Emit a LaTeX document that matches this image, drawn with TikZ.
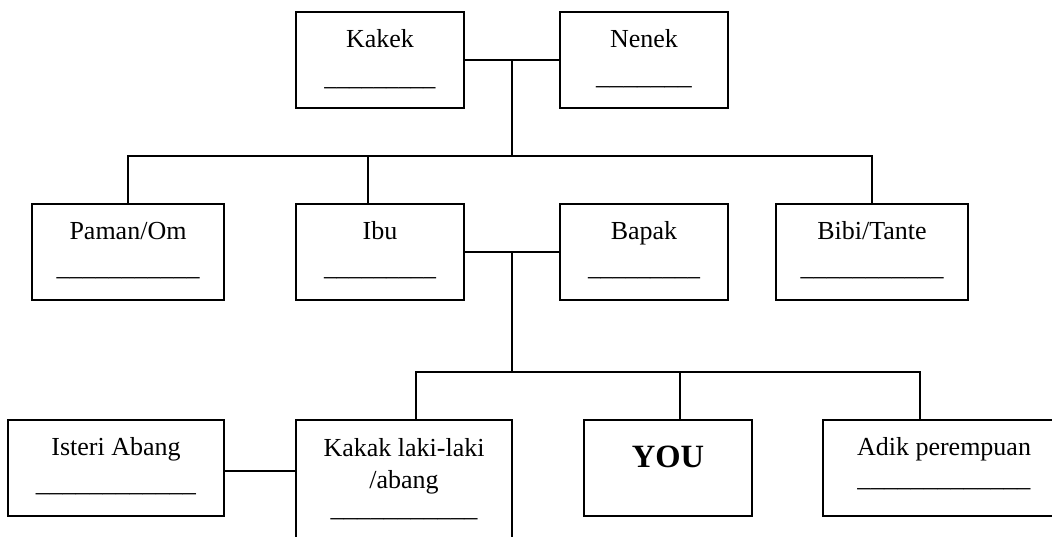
\documentclass[tikz,border=0pt]{standalone}
\usepackage{fontspec}
\setmainfont{Liberation Serif}
\usetikzlibrary{calc}
\tikzset{
  fambox/.style={draw, line width=2pt, rectangle, inner sep=0pt, outer sep=0pt},
  lbl/.style={anchor=base, inner sep=0pt, font=\fontsize{26}{30}\selectfont},
  youlbl/.style={anchor=base, inner sep=0pt, font=\fontsize{32.5}{36}\selectfont\bfseries},
  conn/.style={line width=2pt},
}
\begin{document}
\begin{tikzpicture}[x=1pt,y=-1pt]
\useasboundingbox (0,0) rectangle (1052,536);
\clip (0,0) rectangle (1052,536);
% boxes
\node[fambox, minimum width=168pt, minimum height=96pt] (kakek) at (380,60) {};
\node[fambox, minimum width=168pt, minimum height=96pt] (nenek) at (644,60) {};
\node[fambox, minimum width=192pt, minimum height=96pt] (paman) at (128,252) {};
\node[fambox, minimum width=168pt, minimum height=96pt] (ibu) at (380,252) {};
\node[fambox, minimum width=168pt, minimum height=96pt] (bapak) at (644,252) {};
\node[fambox, minimum width=192pt, minimum height=96pt] (bibi) at (872,252) {};
\node[fambox, minimum width=216pt, minimum height=96pt] (isteri) at (116,468) {};
\node[fambox, minimum width=216pt, minimum height=140pt] (kakak) at (404,490) {};
\node[fambox, minimum width=168pt, minimum height=96pt] (you) at (668,468) {};
\node[fambox, minimum width=242pt, minimum height=96pt] (adik) at (944,468) {};
% texts
\node[lbl] (tkakek) at (380,47.5) {Kakek};
\node[lbl] (ukakek) at (380,85) {\scalebox{0.95}[1]{\_\_\_\_\_\_\_\_\_}};
\node[lbl] (tnenek) at (644,47.5) {Nenek};
\node[lbl] (unenek) at (644,84) {\scalebox{1.05}[1]{\_\_\_\_\_\_\_}};
\node[lbl] (tpaman) at (128,239) {Paman/Om};
\node[lbl] (upaman) at (128,275) {\_\_\_\_\_\_\_\_\_\_\_};
\node[lbl] (tibu) at (380,239) {Ibu};
\node[lbl] (uibu) at (380,275) {\scalebox{0.957}[1]{\_\_\_\_\_\_\_\_\_}};
\node[lbl] (tbapak) at (644,239) {Bapak};
\node[lbl] (ubapak) at (644,275) {\scalebox{0.957}[1]{\_\_\_\_\_\_\_\_\_}};
\node[lbl] (tbibi) at (872,239) {Bibi/Tante};
\node[lbl] (ubibi) at (872,275) {\_\_\_\_\_\_\_\_\_\_\_};
\node[lbl] (tisteri) at (116,455) {Isteri Abang};
\node[lbl] (uisteri) at (116,491) {\scalebox{1.026}[1]{\_\_\_\_\_\_\_\_\_\_\_\_}};
\node[lbl] (tkakak) at (404,456) {Kakak laki-laki};
\node[lbl] (tkakak2) at (404,488) {/abang};
\node[lbl] (ukakak) at (404,516) {\scalebox{1.028}[1]{\_\_\_\_\_\_\_\_\_\_\_}};
\node[youlbl] (tyou) at (668,467) {YOU};
\node[lbl] (tadik) at (944,455) {Adik perempuan};
\node[lbl] (uadik) at (944,486) {\scalebox{1.024}[1]{\_\_\_\_\_\_\_\_\_\_\_\_\_}};
% connectors
\coordinate (busA) at (0,156);
\coordinate (busB) at (0,372);
\draw[conn] (kakek.east) -- (nenek.west);
\coordinate (gp) at ($(kakek.east)!0.5!(nenek.west)$);
\draw[conn] (gp) -- (gp |- busA);
\draw[conn] (paman.north) -- (paman.north |- busA) -- (bibi.north |- busA) -- (bibi.north);
\draw[conn] ([xshift=-12pt]ibu.north) -- ([xshift=-12pt]ibu.north |- busA);
\draw[conn] (ibu.east) -- (bapak.west);
\coordinate (pp) at ($(ibu.east)!0.5!(bapak.west)$);
\draw[conn] (pp) -- (pp |- busB);
\draw[conn] ([xshift=12pt]kakak.north) -- ([xshift=12pt]kakak.north |- busB) -- ([xshift=-24pt]adik.north |- busB) -- ([xshift=-24pt]adik.north);
\draw[conn] ([xshift=12pt]you.north) -- ([xshift=12pt]you.north |- busB);
\draw[conn] ([yshift=-3pt]isteri.east) -- ([yshift=-3pt]isteri.east -| kakak.west);
\end{tikzpicture}
\end{document}
